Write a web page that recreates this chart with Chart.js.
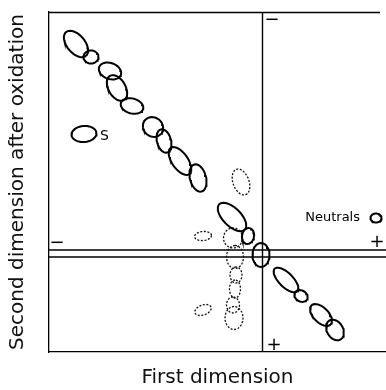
<!DOCTYPE html>
<html>
<head>
<meta charset="utf-8">
<script src="https://cdn.jsdelivr.net/npm/chart.js@4.4.1/dist/chart.umd.min.js"></script>
<style>
  html, body { margin: 0; padding: 0; background: #fff; }
  #wrap { width: 386px; height: 390px; }
</style>
</head>
<body>
<div id="wrap"><canvas id="mapChart"></canvas></div>
<script>
// units: arbitrary gel units, x = first dimension, y = second dimension
const xRange = [0, 337];
const yRange = [0, 340];
const originX = 213.5;
const originY = [102, 95];

// spots: [x, y, length, width, tilt in degrees]
const solidSpots = [
    [27, 308, 31, 18, -50],
    [42, 295, 15, 13, 0],
    [61, 281, 23, 16, -20],
    [68, 264, 28, 17, -60],
    [83, 246, 23, 15, -15],
    [35, 218, 25, 16, 5],
    [104, 225, 21, 19, -40],
    [115, 211, 24, 14, -75],
    [131, 191, 32, 16, -55],
    [149, 174, 28, 16, -75],
    [183, 135, 36, 18, -45],
    [199, 116, 16, 12, 80],
    [212, 97, 24, 17, 90],
    [237, 72, 32, 14, -45],
    [252, 56, 14, 11, -30],
    [272, 37, 27, 15, -45],
    [286, 22, 22, 16, -60],
    [327, 134, 11, 9, 0]
];

const dashedSpots = [
    [192, 170, 27, 16, -70],
    [154, 116, 17, 9, 5],
    [154, 42, 17, 10, 20],
    [184, 114, 19, 20, 0],
    [186, 95, 23, 17, 90],
    [187, 77, 16, 12, 90],
    [186, 63, 18, 11, 90],
    [184, 47, 16, 13, 90],
    [185, 34, 23, 18, 90]
];

// labels: [text, x, y, align, size]
const plotLabels = [
    ['\u2212', 223, 332, 'center', 18],
    ['+', 225, 7, 'center', 18],
    ['\u2212', 8, 109, 'center', 18],
    ['+', 328, 110, 'center', 18],
    ['S', 51, 216, 'left', 14],
    ['Neutrals', 311, 134, 'right', 13]
];

function spotOutline(spot) {
    const [cx, cy, len, wid, tilt] = spot;
    const a = len / 2, b = wid / 2, th = tilt * Math.PI / 180;
    const pts = [];
    for (let i = 0; i <= 40; i++) {
        const t = i / 40 * Math.PI * 2;
        pts.push({
            x: cx + a * Math.cos(t) * Math.cos(th) - b * Math.sin(t) * Math.sin(th),
            y: cy + a * Math.cos(t) * Math.sin(th) + b * Math.sin(t) * Math.cos(th)
        });
    }
    return pts;
}

const datasets = [];

solidSpots.forEach(s => datasets.push({
    data: spotOutline(s), showLine: true, pointRadius: 0,
    borderColor: '#000', borderWidth: 2
}));
dashedSpots.forEach(s => datasets.push({
    data: spotOutline(s), showLine: true, pointRadius: 0,
    borderColor: '#111', borderWidth: 1.3, borderDash: [2, 1.6]
}));

datasets.push({
    data: [{x: originX, y: yRange[0]}, {x: originX, y: yRange[1]}],
    showLine: true, pointRadius: 0, borderColor: '#000', borderWidth: 1.4
});
originY.forEach(v => datasets.push({
    data: [{x: xRange[0], y: v}, {x: xRange[1], y: v}],
    showLine: true, pointRadius: 0, borderColor: '#000', borderWidth: 1.4
}));

const framePlugin = {
    id: 'frame',
    afterDatasetsDraw(chart) {
        const {ctx, chartArea, scales} = chart;
        ctx.save();
        ctx.strokeStyle = '#000';
        ctx.lineWidth = 1.3;
        ctx.beginPath();
        ctx.moveTo(chartArea.left, chartArea.top + 0.5);
        ctx.lineTo(chartArea.right - 6, chartArea.top + 0.5);
        ctx.stroke();

        ctx.fillStyle = '#000';
        ctx.textBaseline = 'middle';
        plotLabels.forEach(([text, x, y, align, size]) => {
            ctx.font = `${size}px "DejaVu Sans"`;
            ctx.textAlign = align;
            ctx.fillText(text, scales.x.getPixelForValue(x), scales.y.getPixelForValue(y));
        });
        ctx.restore();
    }
};

new Chart(document.getElementById('mapChart'), {
    type: 'scatter',
    data: { datasets: datasets },
    options: {
        responsive: true,
        maintainAspectRatio: false,
        animation: false,
        layout: { padding: { top: 12, right: 0, bottom: 0, left: 0 } },
        plugins: {
            legend: { display: false },
            tooltip: { enabled: false }
        },
        scales: {
            x: {
                type: 'linear', min: xRange[0], max: xRange[1],
                grid: { display: false },
                border: { display: true, color: '#000', width: 1.3 },
                ticks: { display: false },
                title: {
                    display: true, text: 'First dimension', color: '#111',
                    font: { family: 'DejaVu Sans', size: 20 },
                    padding: { top: 0, bottom: 0 }
                },
                afterFit(scale) { scale.height = 38; }
            },
            y: {
                type: 'linear', min: yRange[0], max: yRange[1],
                grid: { display: false },
                border: { display: true, color: '#000', width: 1.3 },
                ticks: { display: false },
                title: {
                    display: true, text: 'Second dimension after oxidation', color: '#111',
                    font: { family: 'DejaVu Sans', size: 20 },
                    padding: { top: 6, bottom: 0 }
                },
                afterFit(scale) { scale.width = 49; }
            }
        }
    },
    plugins: [framePlugin]
});
</script>
</body>
</html>
